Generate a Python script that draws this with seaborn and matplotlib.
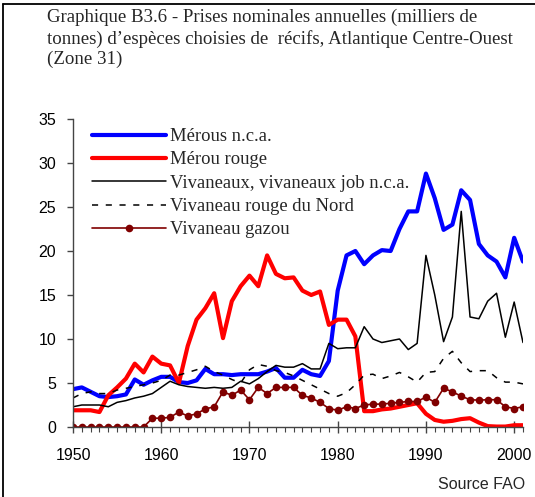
import matplotlib
matplotlib.use("Agg")
import matplotlib.pyplot as plt
from matplotlib.lines import Line2D
import seaborn as sns
import pandas as pd
import numpy as np

years = list(range(1950, 2002))

merous_nca = [4.3, 4.5, 4.0, 3.5, 3.4, 3.5, 3.7, 5.4, 4.8, 5.3,
              5.7, 5.7, 5.1, 5.0, 5.3, 6.6, 6.0, 6.0, 5.9, 6.0,
              6.0, 6.0, 6.3, 6.7, 5.6, 5.6, 6.5, 6.0, 5.8, 7.5,
              15.5, 19.5, 20.0, 18.5, 19.5, 20.1, 20.0, 22.5, 24.5, 24.5,
              28.8, 26.0, 22.4, 23.0, 26.9, 25.8, 20.8, 19.5, 18.8, 17.0,
              21.5, 18.8]

merou_rouge = [1.9, 1.9, 1.9, 1.7, 3.6, 4.5, 5.5, 7.2, 6.2, 8.0,
               7.2, 7.0, 5.0, 9.2, 12.2, 13.5, 15.2, 10.1, 14.3, 16.0,
               17.2, 16.0, 19.5, 17.4, 16.9, 17.0, 15.5, 15.0, 15.4, 11.6,
               12.2, 12.2, 10.3, 1.8, 1.8, 2.0, 2.1, 2.3, 2.5, 2.7,
               1.5, 0.8, 0.6, 0.7, 0.9, 1.0, 0.5, 0.1, 0.05, 0.05,
               0.2, 0.2]

vivaneaux = [2.3, 2.5, 2.5, 2.5, 2.3, 2.8, 3.0, 3.3, 3.5, 3.8,
             4.5, 5.2, 4.8, 4.6, 4.5, 4.4, 4.5, 4.4, 4.5, 5.2,
             4.9, 5.5, 6.3, 7.0, 6.8, 6.8, 7.2, 6.6, 6.6, 9.5,
             8.9, 9.0, 9.0, 11.4, 10.0, 9.6, 9.8, 10.0, 8.8, 9.5,
             19.5, 15.0, 9.7, 12.5, 24.5, 12.5, 12.3, 14.3, 15.2, 10.2,
             14.2, 9.6]

vivaneau_nord = [3.3, 3.8, 4.0, 3.8, 3.8, 4.2, 4.4, 4.6, 4.8, 5.0,
                 5.3, 5.9, 5.9, 6.2, 6.5, 6.9, 6.3, 5.9, 5.4, 5.0,
                 6.5, 7.1, 6.9, 6.4, 6.2, 5.8, 5.3, 4.8, 4.3, 3.8,
                 3.5, 3.9, 4.8, 5.9, 6.0, 5.5, 5.8, 6.2, 5.7, 5.1,
                 6.2, 6.3, 7.8, 8.6, 7.3, 6.3, 6.4, 6.4, 5.6, 5.1,
                 5.1, 4.9]

vivaneau_gazou = [0, 0, 0, 0, 0, 0, 0, 0, 0, 1.0,
                  1.0, 1.1, 1.7, 1.25, 1.5, 2.05, 2.3, 4.0, 3.6, 4.2,
                  3.1, 4.5, 3.8, 4.5, 4.5, 4.5, 3.6, 3.3, 2.8, 2.1,
                  1.9, 2.3, 2.1, 2.5, 2.6, 2.6, 2.7, 2.8, 2.9, 2.9,
                  3.4, 2.8, 4.4, 4.0, 3.5, 3.1, 3.05, 3.1, 3.1, 2.3,
                  2.1, 2.3]

labels = ["Mérous n.c.a.", "Mérou rouge", "Vivaneaux, vivaneaux job n.c.a.",
          "Vivaneau rouge du Nord", "Vivaneau gazou"]
xticks = [1950, 1960, 1970, 1980, 1990, 2000]
yticks = [0, 5, 10, 15, 20, 25, 30, 35]

title = ("Graphique B3.6 - Prises nominales annuelles (milliers de\n"
         "tonnes) d\u2019espèces choisies de  récifs, Atlantique Centre-Ouest\n"
         "(Zone 31)")

sns.set_style("ticks")
plt.rcParams['font.family'] = ['Liberation Sans', 'DejaVu Sans']

W, H = 535, 497
fig = plt.figure(figsize=(W / 100, H / 100), dpi=100)
ax = fig.add_axes([73 / W, 1 - 427 / H, (523 - 73) / W, (427 - 119) / H])

df = pd.DataFrame({"year": years, "v": merous_nca})
sns.lineplot(data=df, x="year", y="v", ax=ax, color="#0000FF", linewidth=3.0,
             label=labels[0], estimator=None, sort=False)
df = pd.DataFrame({"year": years, "v": merou_rouge})
sns.lineplot(data=df, x="year", y="v", ax=ax, color="#FF0000", linewidth=3.0,
             label=labels[1], estimator=None, sort=False)
df = pd.DataFrame({"year": years, "v": vivaneaux})
sns.lineplot(data=df, x="year", y="v", ax=ax, color="black", linewidth=1.1,
             label=labels[2], estimator=None, sort=False)
df = pd.DataFrame({"year": years, "v": vivaneau_nord})
sns.lineplot(data=df, x="year", y="v", ax=ax, color="black", linewidth=1.1,
             label=labels[3], estimator=None, sort=False, dashes=False)
ax.lines[-1].set_dashes((4, 5))
df = pd.DataFrame({"year": years, "v": vivaneau_gazou})
sns.lineplot(data=df, x="year", y="v", ax=ax, color="#800000", linewidth=1.2,
             marker="o", markersize=5.5, markeredgewidth=0, markerfacecolor="#800000",
             label=labels[4], estimator=None, sort=False)

ax.set_xlim(1950, 2001)
ax.set_ylim(0, 35)
ax.set_xticks(xticks)
ax.set_xticks(years, minor=True)
ax.set_yticks(yticks)
ax.set_xlabel("")
ax.set_ylabel("")
sns.despine(ax=ax)
for s in ["left", "bottom"]:
    ax.spines[s].set_linewidth(1.0)
    ax.spines[s].set_color("#444444")
ax.tick_params(axis="x", which="major", direction="inout", length=8, width=1.0,
               pad=11, labelsize=11.5, colors="#444444", labelcolor="black")
ax.tick_params(axis="x", which="minor", direction="out", length=3.5, width=0.8,
               colors="#444444")
ax.tick_params(axis="y", which="major", direction="out", length=4, width=1.0,
               pad=8, labelsize=11.5, colors="#444444", labelcolor="black")

leg = ax.legend(loc="upper left", bbox_to_anchor=(92 / W, 1 - 128 / H),
                bbox_transform=fig.transFigure, frameon=False, borderpad=0,
                borderaxespad=0, handlelength=4.0, handletextpad=0.2,
                labelspacing=0.34, numpoints=1,
                prop={"family": "Liberation Serif", "size": 13.4})

fig.text(47 / W, 1 - 9 / H, title, ha="left", va="top",
         family="Liberation Serif", fontsize=13.6, linespacing=1.24)
fig.text(525 / W, 1 - 489 / H, "Source FAO", ha="right", va="baseline",
         fontsize=11.5)

fig.add_artist(Line2D([3 / W, 1], [1 - 4 / H, 1 - 4 / H], color="black", lw=1.3,
                      transform=fig.transFigure))
fig.add_artist(Line2D([3 / W, 3 / W], [0, 1 - 4 / H], color="black", lw=1.3,
                      transform=fig.transFigure))

fig.savefig("out.png", dpi=100)
